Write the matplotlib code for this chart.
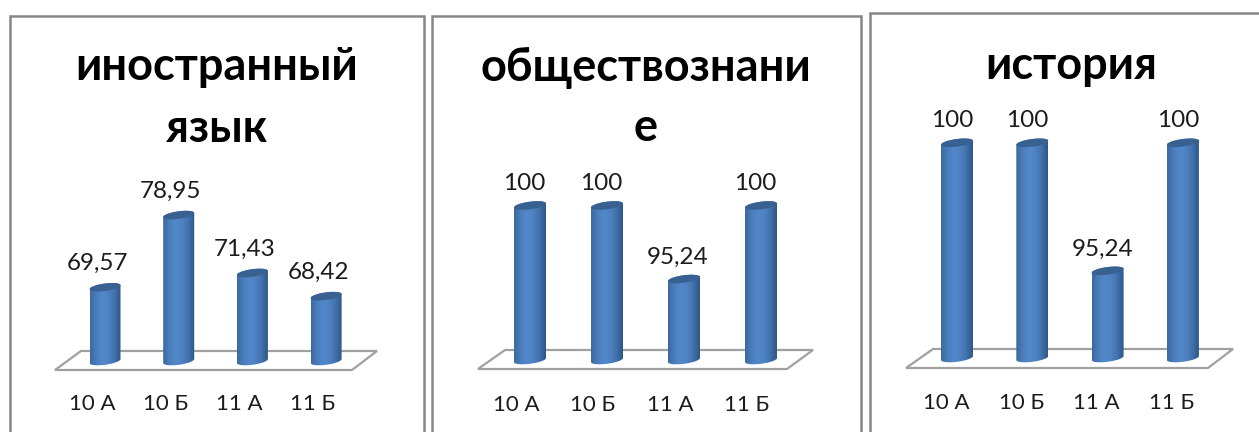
import numpy as np
import matplotlib
matplotlib.use('Agg')
import matplotlib.pyplot as plt
from matplotlib.colors import LinearSegmentedColormap
from matplotlib.patches import Polygon, Rectangle
from matplotlib.transforms import Affine2D

W, H = 1259, 432

plt.rcParams['font.family'] = ['Lato', 'Open Sans', 'DejaVu Sans']

categories = ['10 А', '10 Б', '11 А', '11 Б']

lang_title = ['иностранный', 'язык']
lang_values = [69.57, 78.95, 71.43, 68.42]
lang_labels = ['69,57', '78,95', '71,43', '68,42']

social_title = ['обществознани', 'е']
social_values = [100, 100, 95.24, 100]
social_labels = ['100', '100', '95,24', '100']

history_title = ['история']
history_values = [100, 100, 95.24, 100]
history_labels = ['100', '100', '95,24', '100']

# layout of each panel, in pixels of the reference
panels = [
    dict(title=lang_title, values=lang_values, labels=lang_labels, ymin=60, per_unit=7.7,
         x0=105, step=73.7, base=361, bar_w=31, frame=(10, 16, 424, 450),
         floor=[(55, 370), (352, 370), (377, 351), (81, 351)],
         title_x=217, title_y=[67, 129], label_dx=-8, label_up=24, tick_dx=-13, tick_down=43),
    dict(title=social_title, values=social_values, labels=social_labels, ymin=90, per_unit=15.45,
         x0=530, step=77, base=360, bar_w=32, frame=(432, 16, 861, 450),
         floor=[(478, 369), (787, 369), (813, 350), (505, 350)],
         title_x=646, title_y=[68, 128], label_dx=-6, label_up=22, tick_dx=-14, tick_down=45),
    dict(title=history_title, values=history_values, labels=history_labels, ymin=92, per_unit=26.9,
         x0=957, step=75.3, base=358, bar_w=32, frame=(870, 13, 1275, 450),
         floor=[(906, 368), (1208, 368), (1233, 349), (933, 349)],
         title_x=1071, title_y=[66], label_dx=-5, label_up=22, tick_dx=-11, tick_down=45),
]

body_cmap = LinearSegmentedColormap.from_list(
    'cyl', ['#3c6aa0', '#4b7dbb', '#5288cb', '#4f82c2', '#4272ad', '#2f5788'])
cap_color = '#386192'

px = Affine2D().scale(1 / W, -1 / H).translate(0, 1)


def draw_cylinder(ax, x, value, half_w, dx_px, dy_px):
    """Draw one tilted cylinder standing on the axis floor."""
    a = half_w * dx_px
    b = 3.8 * dy_px
    tilt = 2 * dy_px
    ymin = ax.get_ylim()[0]

    t = np.linspace(np.pi, 0, 40)
    top_x = x + a * np.cos(t)
    top_y = value + b * np.sin(t) + tilt * np.cos(t)
    t2 = np.linspace(0, -np.pi, 40)
    low_x = x + a * np.cos(t2)
    low_y = ymin + b * np.sin(t2) + tilt * np.cos(t2)

    outline = Polygon(np.column_stack([np.r_[top_x, low_x], np.r_[top_y, low_y]]),
                      closed=True, fc='none', ec='none', transform=ax.transData, clip_on=False)
    ax.add_patch(outline)
    grad = np.linspace(0, 1, 64).reshape(1, -1)
    im = ax.imshow(grad, cmap=body_cmap, aspect='auto', zorder=2, interpolation='bilinear',
                   extent=(x - a, x + a, ymin - 3 * b, value + 3 * b))
    im.set_clip_box(ax.figure.bbox)
    im.set_clip_path(outline)

    t3 = np.linspace(0, 2 * np.pi, 60)
    cap = Polygon(np.column_stack([x + a * np.cos(t3),
                                   value + b * np.sin(t3) + tilt * np.cos(t3)]),
                  closed=True, fc=cap_color, ec='none', zorder=3, clip_on=False)
    ax.add_patch(cap)


fig = plt.figure(figsize=(W / 100, H / 100), dpi=100)
fig.patch.set_facecolor('white')

for p in panels:
    # frame and floor belong to the figure, behind the bars
    x1, y1, x2, y2 = p['frame']
    fig.add_artist(Rectangle((x1, y1), x2 - x1, y2 - y1, fc='white', ec='#868686', lw=1.8,
                             transform=px + fig.transFigure, zorder=-2))
    fig.add_artist(Polygon(p['floor'], closed=True, fc='white', ec='#a0a0a0', lw=1.6,
                           transform=px + fig.transFigure, zorder=-1))

    left = p['x0'] - p['step'] / 2
    width = 4 * p['step']
    top_val = max(p['values'])
    height = (top_val - p['ymin']) * p['per_unit']
    ax = fig.add_axes([left / W, 1 - p['base'] / H, width / W, height / H])
    ax.patch.set_alpha(0)
    ax.set_xlim(-0.5, 3.5)
    ax.set_ylim(p['ymin'], top_val)
    ax.axis('off')

    dx_px = 4 / width
    dy_px = (top_val - p['ymin']) / height

    for i, v in enumerate(p['values']):
        draw_cylinder(ax, i, v, p['bar_w'] / 2, dx_px, dy_px)
        ax.annotate(p['labels'][i], xy=(i, v), annotation_clip=False,
                    xytext=(p['label_dx'] * 0.72, p['label_up'] * 0.72),
                    textcoords='offset points', ha='center', va='center',
                    fontsize=17.5, color='#1c1c1c')
        ax.annotate(categories[i], xy=(i, p['ymin']), annotation_clip=False,
                    xytext=(p['tick_dx'] * 0.72, -p['tick_down'] * 0.72),
                    textcoords='offset points', ha='center', va='center',
                    fontsize=16, color='#1c1c1c')
    ax.set_xlim(-0.5, 3.5)
    ax.set_ylim(p['ymin'], top_val)

    for line, y in zip(p['title'], p['title_y']):
        fig.text(p['title_x'] / W, 1 - y / H, line, ha='center', va='center',
                 fontsize=32.5, fontweight='bold', color='black')

fig.savefig('out.png', dpi=100)
